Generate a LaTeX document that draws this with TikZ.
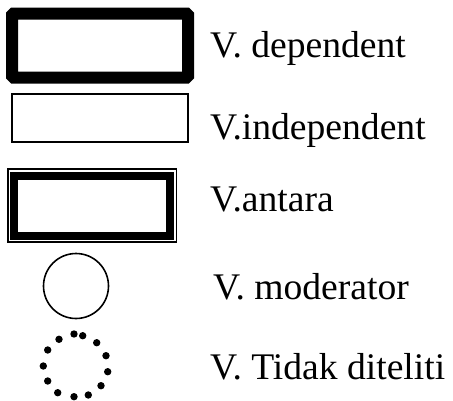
\documentclass[tikz,border=0pt]{standalone}
\usepackage{fontspec}
\setmainfont{Liberation Serif}
\begin{document}
\begin{tikzpicture}[x=1pt,y=-1pt,
  lbl/.style={anchor=base west,inner sep=0pt,font=\fontsize{37.6}{40}\selectfont},
  box/.style={draw,rectangle,inner sep=0pt,outer sep=0pt},
  dot/.style={fill=black}]
\useasboundingbox (0,0) rectangle (453,400);

% dependent variable: heavy rounded frame
\node[box,line width=12pt,rounded corners=1.5pt,minimum width=176pt,minimum height=64pt] (dep) at (100,45.5) {};
% independent variable: plain thin frame
\node[box,line width=2pt,minimum width=175.5pt,minimum height=48pt] (indep) at (100,118) {};
% intervening variable: heavy frame inside a thin frame
\node[box,line width=1.8pt,minimum width=168.5pt,minimum height=73pt] (antout) at (92.25,205.75) {};
\node[box,line width=8pt,minimum width=156pt,minimum height=60pt] (ant) at (92,206) {};
% moderator variable: circle
\node[draw,circle,line width=1.6pt,inner sep=0pt,minimum size=65pt] (mod) at (76,286) {};
% variable not studied: ring of dots
\coordinate (nt) at (75.5,365.5);
\foreach \dx/\dy in {-1.5/-31.5, 7.2/-29.8, 21.2/-22.8, 30.5/-9.8, 32.2/6.2,
    25.5/20.2, 12.8/29.5, -1.5/31.2, -17.8/27.2, -27.8/15.5, -32.2/0.5,
    -27.8/-15.5, -16.5/-26.2}
  \fill[dot,shift={(nt)}] (\dx,\dy) circle (3.7);

% labels
\node[lbl] (tdep) at (210,57.5) {V. dependent};
\node[lbl] (tindep) at (210,139.3) {V.independent};
\node[lbl] (tant) at (210,211.7) {V.antara};
\node[lbl] (tmod) at (213,299.3) {V. moderator};
\node[lbl] (tnt) at (210,379.3) {V. Tidak diteliti};
\end{tikzpicture}
\end{document}
